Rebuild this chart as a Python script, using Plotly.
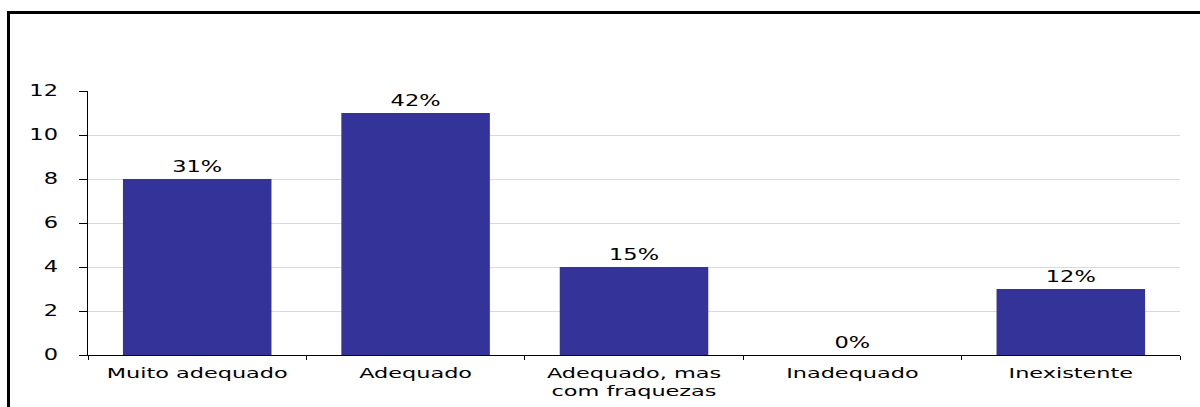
import plotly.graph_objects as go

categories = ["Muito adequado", "Adequado", "Adequado, mas<br>com fraquezas", "Inadequado", "Inexistente"]
counts = [8, 11, 4, 0, 3]
pct_labels = ["31%", "42%", "15%", "0%", "12%"]
y_ticks = [0, 2, 4, 6, 8, 10, 12]

W, H = 1200, 407
L, R, T, B = 88, 20, 91, 52
pw, ph = W - L - R, H - T - B

def px_x(x):
    return (x - L) / pw

def px_y(y):
    return (H - B - y) / ph

fig = go.Figure()
fig.add_trace(go.Bar(
    x=categories, y=counts, text=pct_labels, textposition="outside",
    marker=dict(color="#333399", line=dict(width=0)),
    textfont=dict(color="black", size=15, family="DejaVu Sans"),
    cliponaxis=False, width=0.68,
))

fig.update_layout(
    width=W, height=H, margin=dict(l=L, r=R, t=T, b=B, autoexpand=False),
    paper_bgcolor="white", plot_bgcolor="white",
    font=dict(family="DejaVu Sans", size=15, color="black"),
    showlegend=False, bargap=0.32,
    xaxis=dict(showline=True, linecolor="black", linewidth=1, ticks="outside",
               tickson="boundaries", ticklen=4, tickcolor="black", automargin=False,
               tickfont=dict(size=14), showgrid=False, ticklabelstandoff=5),
    yaxis=dict(range=[0, 12], tickvals=y_ticks, showline=True, linecolor="black",
               linewidth=1, ticks="outside", ticklen=8, tickcolor="black", automargin=False,
               showgrid=True, gridcolor="#d9d9d9", gridwidth=1,
               tickfont=dict(size=15), zeroline=False, ticklabelstandoff=18),
    shapes=[
        dict(type="line", xref="paper", yref="paper",
             x0=px_x(7), x1=px_x(1205), y0=px_y(12.5), y1=px_y(12.5),
             line=dict(color="black", width=3)),
        dict(type="line", xref="paper", yref="paper",
             x0=px_x(8.5), x1=px_x(8.5), y0=px_y(11), y1=px_y(410),
             line=dict(color="black", width=3)),
    ],
)

# The reference uses a horizontally stretched (Verdana-like) face: widen glyphs around their anchor.
stretch_js = """
var gd = document.getElementById('{plot_id}');
gd.querySelectorAll('svg.main-svg text').forEach(function(t){
  var x = parseFloat(t.getAttribute('x') || 0), y = parseFloat(t.getAttribute('y') || 0);
  var tr = t.getAttribute('transform') || '';
  var s = t.closest('.xtick') ? 1.6 : 1.5;
  t.setAttribute('transform', tr + ' translate(' + x + ',' + y + ') scale(' + s + ',1) translate(' + (-x) + ',' + (-y) + ')');
});
"""

fig.write_html("out.html", post_script=stretch_js)
